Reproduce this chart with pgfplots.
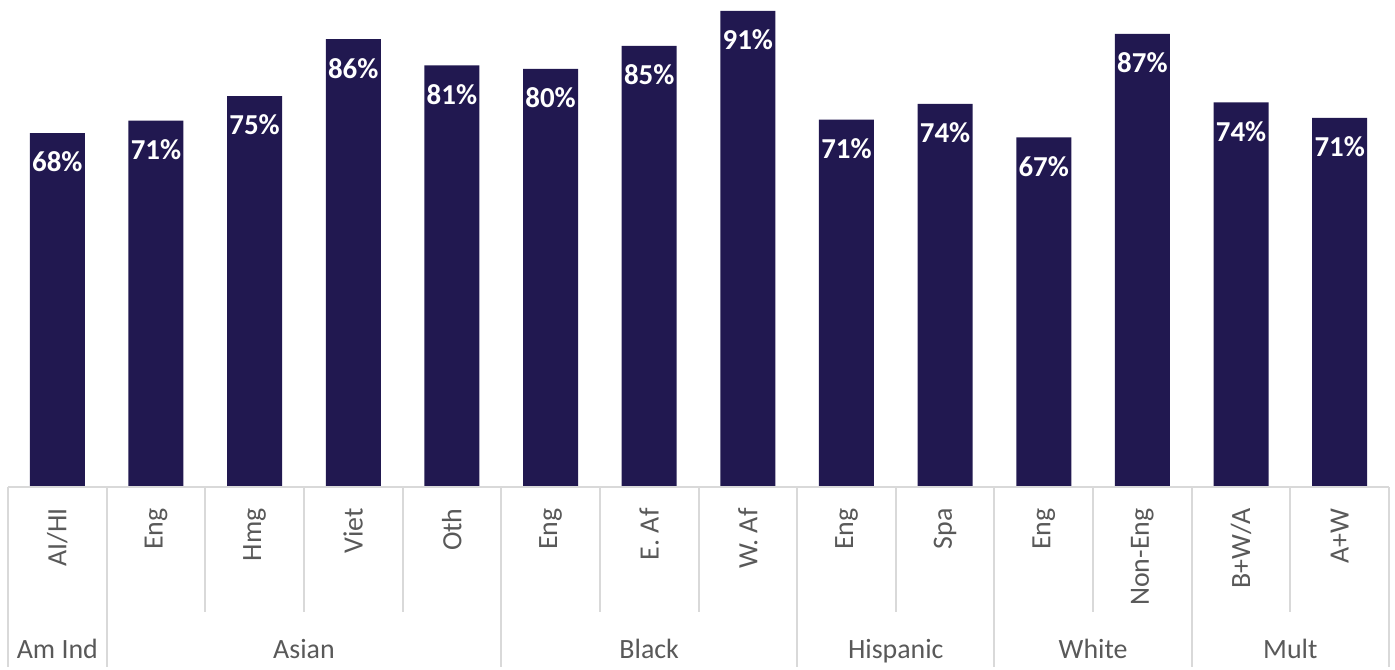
\documentclass[border=0pt]{standalone}
\usepackage{pgfplots}
\pgfplotsset{compat=1.18}
\usepackage{fontspec}
\setmainfont{Carlito}
\definecolor{barc}{RGB}{33,24,80}
\definecolor{sepc}{RGB}{217,217,217}
\definecolor{labc}{RGB}{89,89,89}
\begin{document}
\begin{tikzpicture}
\begin{axis}[
  scale only axis, width=690.5bp, height=243.5bp,
  xmin=-0.5, xmax=13.5, ymin=0, ymax=93.3,
  clip=false,
  hide y axis,
  axis line style={draw=none},
  xtick={0,...,13},
  xticklabels={AI/HI,Eng,Hmg,Viet,Oth,Eng,E. Af,W. Af,Eng,Spa,Eng,Non-Eng,B+W/A,A+W},
  major tick length=0pt,
  xtick style={draw=none},
  xticklabel style={yshift=-10.5bp, rotate=90, anchor=east, inner sep=0pt,
    font=\fontsize{14}{16}\selectfont, text=labc},
]
\addplot[ybar, bar width=27.5bp, fill=barc, draw=none,
  nodes near coords, point meta=explicit symbolic,
  every node near coord/.append style={anchor=center, yshift=-14.5bp,
    font=\bfseries\fontsize{14.5}{16}\selectfont, text=white}]
  table[meta=lab] {
x y lab
0 67.8 68\%
1 70.2 71\%
2 74.9 75\%
3 85.8 86\%
4 80.8 81\%
5 80.1 80\%
6 84.5 85\%
7 91.2 91\%
8 70.4 71\%
9 73.4 74\%
10 67.0 67\%
11 86.8 87\%
12 73.7 74\%
13 70.7 71\%
};
\draw[sepc, line width=1bp] (axis cs:-0.5,0) -- (axis cs:13.5,0);
\pgfplotsinvokeforeach{-0.5,0.5,4.5,7.5,9.5,11.5,13.5}{
  \draw[sepc, line width=1bp] (axis cs:#1,0) -- ([yshift=-90bp]axis cs:#1,0);
}
\pgfplotsinvokeforeach{1.5,2.5,3.5,5.5,6.5,8.5,10.5,12.5}{
  \draw[sepc, line width=1bp] (axis cs:#1,0) -- ([yshift=-62.5bp]axis cs:#1,0);
}
\node[anchor=base, yshift=-85.5bp, font=\fontsize{14}{16}\selectfont, text=labc] at (axis cs:0,0) {Am Ind};
\node[anchor=base, yshift=-85.5bp, font=\fontsize{14}{16}\selectfont, text=labc] at (axis cs:2.5,0) {Asian};
\node[anchor=base, yshift=-85.5bp, font=\fontsize{14}{16}\selectfont, text=labc] at (axis cs:6,0) {Black};
\node[anchor=base, yshift=-85.5bp, font=\fontsize{14}{16}\selectfont, text=labc] at (axis cs:8.5,0) {Hispanic};
\node[anchor=base, yshift=-85.5bp, font=\fontsize{14}{16}\selectfont, text=labc] at (axis cs:10.5,0) {White};
\node[anchor=base, yshift=-85.5bp, font=\fontsize{14}{16}\selectfont, text=labc] at (axis cs:12.5,0) {Mult};
\path ([xshift=-4bp]axis cs:-0.5,93.3) coordinate (tl);
\path ([xshift=3bp,yshift=-90bp]axis cs:13.5,0) coordinate (br);
\path (tl) rectangle (br);
\end{axis}
\end{tikzpicture}
\end{document}
